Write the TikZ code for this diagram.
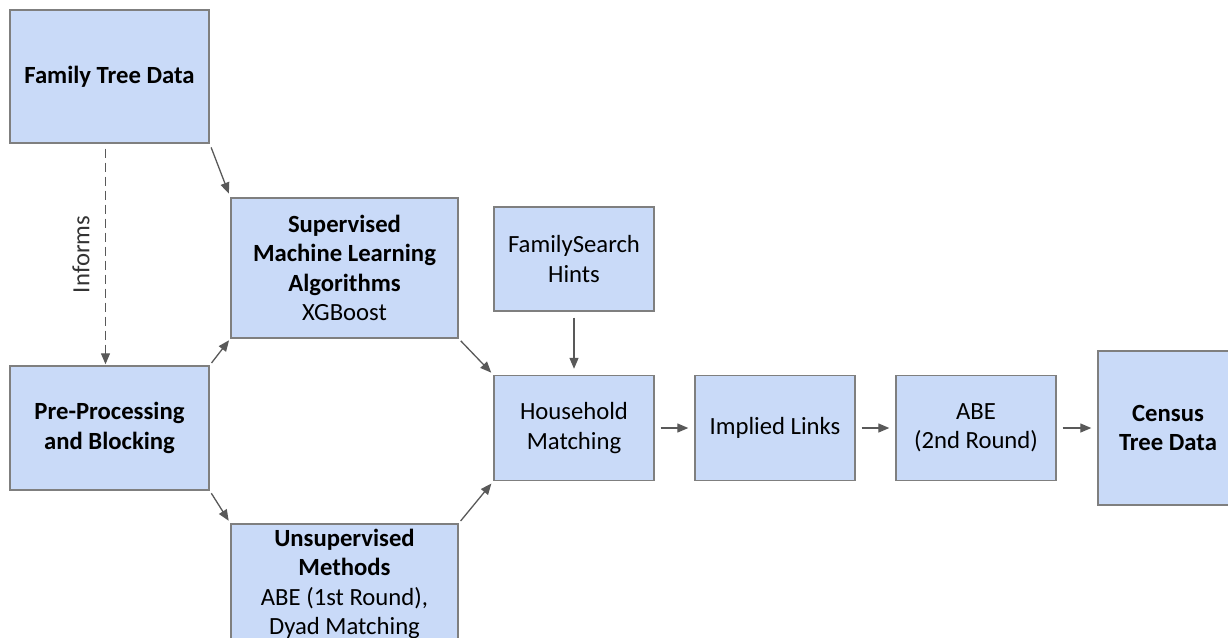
\documentclass[tikz,border=0pt]{standalone}
\usepackage{fontspec}
\setmainfont{Carlito}
\usetikzlibrary{arrows.meta}
\definecolor{boxfill}{HTML}{C9DAF8}
\definecolor{boxline}{HTML}{7F7F7F}
\definecolor{arr}{HTML}{595959}
\tikzset{
  box/.style={draw=boxline, fill=boxfill, line width=1.4pt, inner sep=0pt, align=center,
    font=\fontsize{24.7}{29.5}\selectfont},
  conn/.style={draw=arr, line width=1.3pt, -{Triangle[length=11pt,width=9pt]}},
}
\begin{document}
\begin{tikzpicture}[x=1pt,y=-1pt]
\useasboundingbox (0,0) rectangle (1228,637);
\node[box, minimum width=199pt, minimum height=133pt] (ft) at (109.5,76.5) {\textbf{Family Tree Data}};
\node[box, minimum width=227pt, minimum height=140pt] (sup) at (344.5,268) {\textbf{Supervised}\\\textbf{Machine Learning}\\\textbf{Algorithms}\\XGBoost};
\node[box, minimum width=199pt, minimum height=124pt] (pre) at (109.5,428) {\textbf{Pre-Processing}\\\textbf{and Blocking}};
\node[box, minimum width=227pt, minimum height=120pt] (uns) at (344.5,584) {\textbf{Unsupervised}\\\textbf{Methods}\\ABE (1st Round),\\Dyad Matching};
\node[box, minimum width=160pt, minimum height=104pt] (fsh) at (574,259) {FamilySearch\\Hints};
\node[box, minimum width=160pt, minimum height=105pt] (hh) at (574,428) {Household\\Matching};
\node[box, minimum width=160pt, minimum height=105pt] (il) at (775,428) {Implied Links};
\node[box, minimum width=160pt, minimum height=105pt] (abe) at (976,428) {ABE\\(2nd Round)};
\node[box, minimum width=140pt, minimum height=154pt] (ctd) at (1168,428) {\textbf{Census}\\\textbf{Tree Data}};

\draw[conn, dashed, dash pattern=on 9pt off 5pt, shorten <=5pt, shorten >=1pt] ([xshift=-4pt]ft.south) -- ([xshift=-4pt]pre.north)
  node[midway, left=12pt, rotate=90, anchor=south, font=\fontsize{24.7}{29.5}\selectfont, text=black!80] (inf) {Informs};
\draw[conn, shorten <=4pt, shorten >=4pt] (ft.south east) -- (sup.north west);
\draw[conn, shorten <=3pt, shorten >=2pt] (pre.north east) -- (sup.south west);
\draw[conn, shorten <=3pt, shorten >=3pt] (pre.south east) -- (uns.north west);
\draw[conn, shorten <=3pt, shorten >=3pt] (sup.south east) -- (hh.north west);
\draw[conn, shorten <=3pt, shorten >=3pt] (uns.north east) -- (hh.south west);
\draw[conn, shorten <=6pt, shorten >=6pt] (fsh.south) -- (hh.north);
\draw[conn, shorten <=6pt, shorten >=6pt] (hh.east) -- (il.west);
\draw[conn, shorten <=6pt, shorten >=6pt] (il.east) -- (abe.west);
\draw[conn, shorten <=6pt, shorten >=6pt] (abe.east) -- (ctd.west);
\end{tikzpicture}
\end{document}
